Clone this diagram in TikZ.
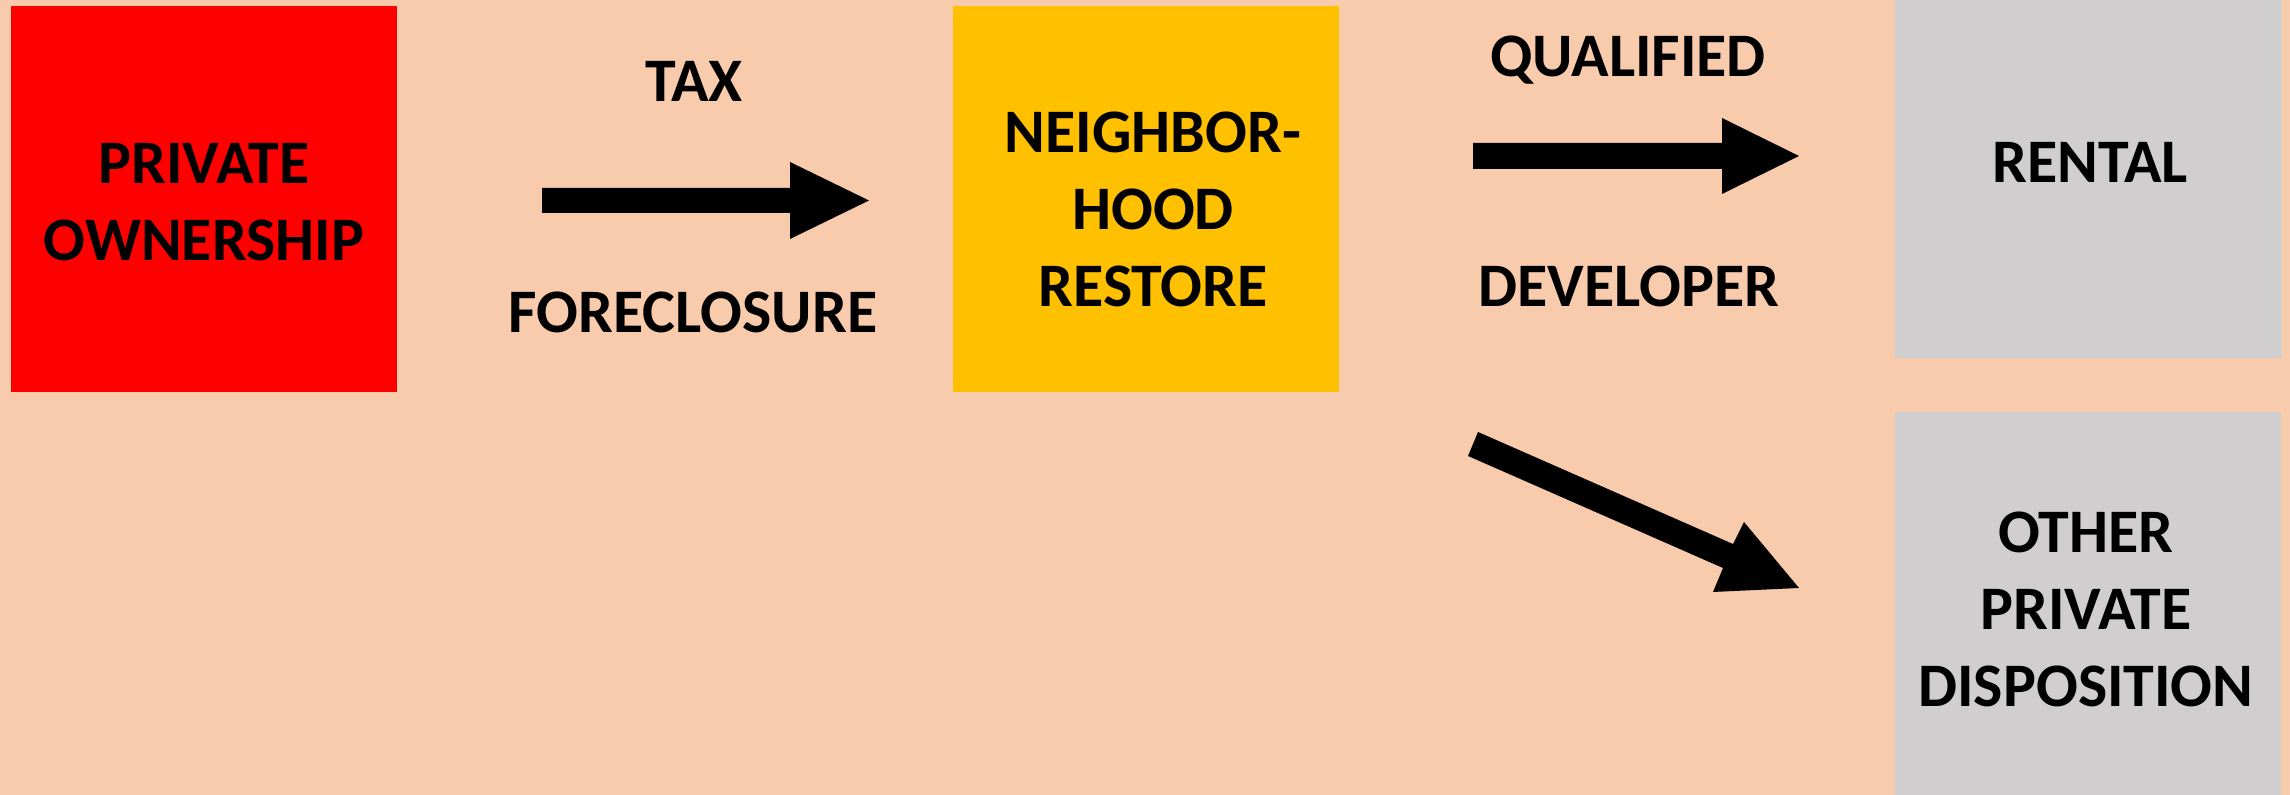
\documentclass[tikz,border=0pt]{standalone}
\usepackage{fontspec}
\setmainfont{Carlito}
\definecolor{peach}{HTML}{F8CBAD}
\definecolor{boxred}{HTML}{FF0000}
\definecolor{boxyellow}{HTML}{FFC000}
\definecolor{boxgray}{HTML}{D0CECE}
\tikzset{
  box/.style={draw=none, inner sep=0pt, outer sep=0pt},
  lbl/.style={inner sep=0pt, align=center, font=\fontsize{17.6pt}{21.9pt}\selectfont\bfseries, text=black},
  blockarrow/.style={fill=black, draw=none}
}
\begin{document}
\begin{tikzpicture}[x=0.01cm, y=-0.01cm]
\fill[peach] (0,0) rectangle (2290,795);
\useasboundingbox (0,0) rectangle (2290,795);
% boxes
\fill[boxred] (11,6) rectangle (397,392);
\fill[boxyellow] (953,6) rectangle (1339,392);
\fill[boxgray] (1895,0) rectangle (2282,358);
\fill[boxgray] (1895,412) rectangle (2281,795);
% labels in boxes
\node[lbl] (poText) at (204,202.5) {PRIVATE\\OWNERSHIP};
\node[lbl] (nrText) at (1153,209.5) {NEIGHBOR-\\HOOD\\RESTORE};
\node[lbl, anchor=base] (reText) at (2090,183) {RENTAL};
\node[lbl] (opText) at (2086,609.5) {OTHER\\PRIVATE\\DISPOSITION};
% arrow labels
\node[lbl, anchor=base] (tax) at (694,102) {TAX};
\node[lbl, anchor=base] (forecl) at (693,333) {FORECLOSURE};
\node[lbl, anchor=base] (qual) at (1628,77) {QUALIFIED};
\node[lbl, anchor=base] (dev) at (1629,307) {DEVELOPER};
% block arrows
\fill[blockarrow] (542,188) -- (790,188) -- (790,162) -- (869,200.5) -- (790,239) -- (790,213) -- (542,213) -- cycle;
\fill[blockarrow] (1473,143) -- (1722,143) -- (1722,118) -- (1799,156) -- (1722,194) -- (1722,169) -- (1473,169) -- cycle;
\fill[blockarrow] (1478,432) -- (1733,544) -- (1744,522) -- (1799,588) -- (1713,592) -- (1723,568) -- (1468,456) -- cycle;
\end{tikzpicture}
\end{document}
